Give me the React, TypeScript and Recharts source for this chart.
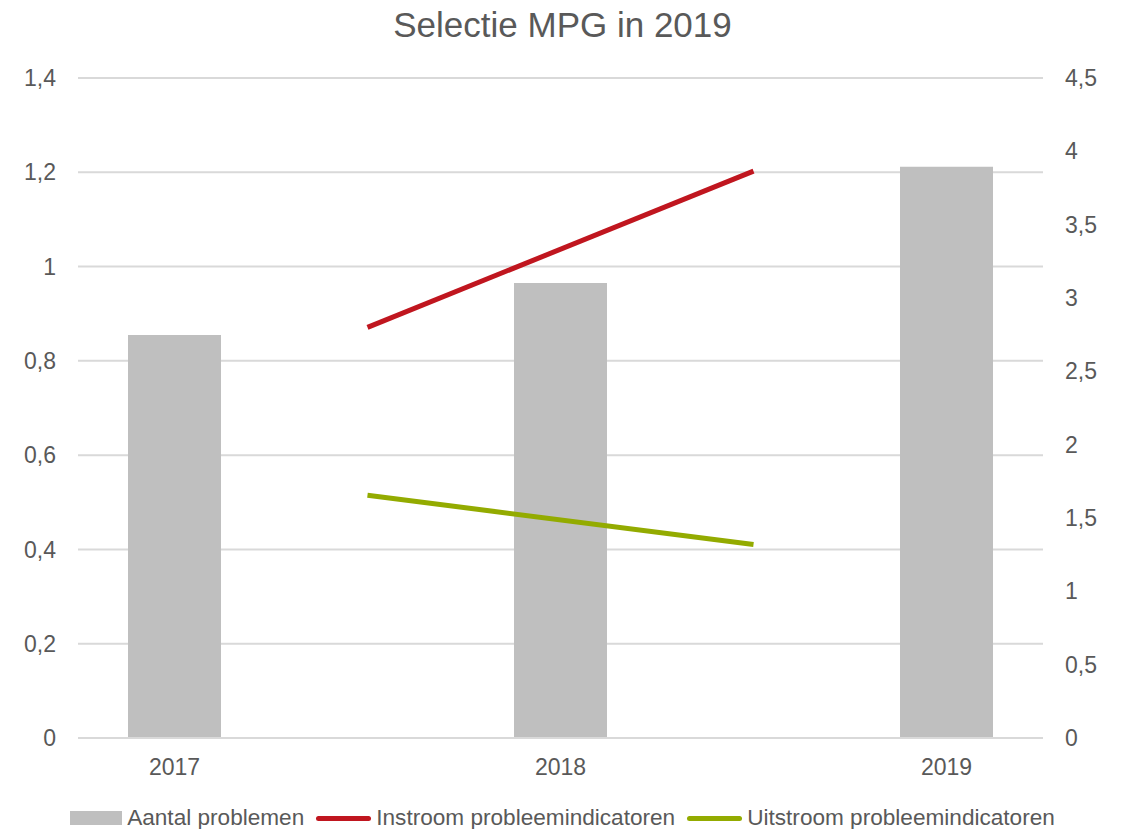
import { ComposedChart, Bar, Line, XAxis, YAxis, CartesianGrid } from 'recharts'

const years = [2017, 2018, 2019]
const aantalProblemen = [0.855, 0.965, 1.212]

// the two lines sit between the year columns
const lineYears = [2017.5, 2018.5]
const instroom = [2.8, 3.865]
const uitstroom = [1.655, 1.32]

const leftTicks = [0, 0.2, 0.4, 0.6, 0.8, 1, 1.2, 1.4]
const rightTicks = [0, 0.5, 1, 1.5, 2, 2.5, 3, 3.5, 4, 4.5]

const FONT = '"Liberation Sans", Arial, sans-serif'
const TEXT = '#595959'
const GREY = '#BFBFBF'
const RED = '#C0161F'
const GREEN = '#93AB00'

const data = [
  ...years.map((y, i) => ({ year: y, aantal: aantalProblemen[i] as number | null, instroom: null as number | null, uitstroom: null as number | null })),
  ...lineYears.map((y, i) => ({ year: y, aantal: null, instroom: instroom[i], uitstroom: uitstroom[i] })),
].sort((a, b) => a.year - b.year)

const comma = (v: number) => String(v).replace('.', ',')

const legendItems = [
  { name: 'Aantal problemen', color: GREY, type: 'bar' },
  { name: 'Instroom probleemindicatoren', color: RED, type: 'line' },
  { name: 'Uitstroom probleemindicatoren', color: GREEN, type: 'line' },
]

export default function App() {
  const tick = { fill: TEXT, fontSize: 23, fontFamily: FONT }
  return (
    <div style={{ position: 'absolute', left: 0, top: 0, width: 1125, height: 829, background: '#fff', fontFamily: FONT }}>
      <div
        style={{
          position: 'absolute',
          top: 7,
          left: 0,
          width: 1125,
          textAlign: 'center',
          fontSize: 35,
          lineHeight: '35px',
          color: TEXT,
        }}
      >
        Selectie MPG in 2019
      </div>
      <ComposedChart width={1125} height={829} data={data} margin={{ top: 78, right: 0, bottom: 51, left: 0 }}>
        <CartesianGrid yAxisId="left" vertical={false} stroke="#D9D9D9" strokeWidth={2} />
        <XAxis
          dataKey="year"
          type="number"
          domain={[2016.75, 2019.25]}
          ticks={years}
          allowDataOverflow
          height={40}
          tick={tick}
          tickLine={false}
          axisLine={{ stroke: '#D9D9D9', strokeWidth: 2 }}
          tickMargin={15}
        />
        <YAxis
          yAxisId="left"
          orientation="left"
          width={78}
          domain={[0, 1.4]}
          ticks={leftTicks}
          tickFormatter={comma}
          tick={tick}
          tickLine={false}
          axisLine={false}
          tickMargin={16}
        />
        <YAxis
          yAxisId="right"
          orientation="right"
          width={82}
          domain={[0, 4.5]}
          ticks={rightTicks}
          tickFormatter={comma}
          tick={{ ...tick, textAnchor: 'start' }}
          tickLine={false}
          axisLine={false}
          tickMargin={16}
        />
        <Bar
          yAxisId="left"
          dataKey="aantal"
          fill={GREY}
          barSize={93}
          isAnimationActive={false}
        />
        <Line
          yAxisId="right"
          dataKey="instroom"
          stroke={RED}
          strokeWidth={5}
          dot={false}
          activeDot={false}
          connectNulls
          isAnimationActive={false}
        />
        <Line
          yAxisId="right"
          dataKey="uitstroom"
          stroke={GREEN}
          strokeWidth={5}
          dot={false}
          activeDot={false}
          connectNulls
          isAnimationActive={false}
        />
      </ComposedChart>
      <div
        style={{
          position: 'absolute',
          top: 807,
          left: 0,
          width: 1125,
          display: 'flex',
          justifyContent: 'center',
          alignItems: 'center',
          gap: 12,
          fontSize: 22.6,
          lineHeight: '22px',
          color: TEXT,
          whiteSpace: 'nowrap',
        }}
      >
        {legendItems.map((it) => (
          <div key={it.name} style={{ display: 'flex', alignItems: 'center', gap: 5 }}>
            {it.type === 'bar' ? (
              <div style={{ width: 52, height: 14, background: it.color }} />
            ) : (
              <div style={{ width: 55, height: 5, borderRadius: 3, background: it.color }} />
            )}
            <span>{it.name}</span>
          </div>
        ))}
      </div>
    </div>
  )
}
